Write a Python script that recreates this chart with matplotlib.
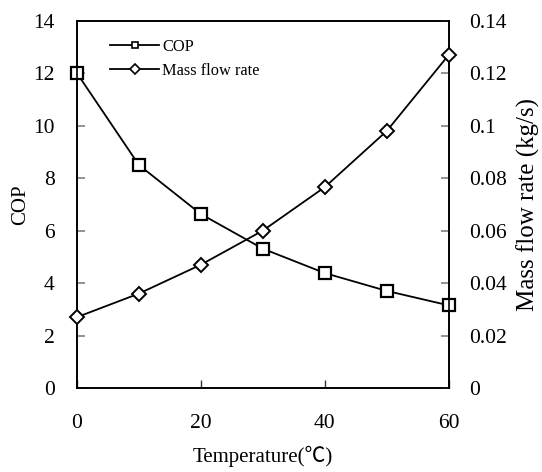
import matplotlib
matplotlib.use("Agg")
import matplotlib.pyplot as plt
from matplotlib.lines import Line2D
from matplotlib.ticker import FuncFormatter

temperature = [0, 10, 20, 30, 40, 50, 60]
cop = [12.0, 8.5, 6.63, 5.31, 4.38, 3.70, 3.15]
mass_flow = [0.027, 0.036, 0.047, 0.060, 0.0766, 0.098, 0.127]
x_ticks = [0, 20, 40, 60]
cop_ticks = [0, 2, 4, 6, 8, 10, 12, 14]
flow_ticks = [0, 0.02, 0.04, 0.06, 0.08, 0.1, 0.12, 0.14]

plt.rcParams['font.family'] = ['Liberation Serif', 'Noto Sans CJK SC']

fig = plt.figure(figsize=(5.42, 4.72), dpi=100)
ax = fig.add_axes([0.142, 0.178, 0.686, 0.778])
ax2 = ax.twinx()

ax.plot(temperature, cop, color='black', lw=1.3, marker='s', markersize=9,
        markerfacecolor='white', markeredgecolor='black', markeredgewidth=1.6,
        clip_on=False, zorder=3)
ax2.plot(temperature, mass_flow, color='black', lw=1.3, marker='D', markersize=7.5,
         markerfacecolor='white', markeredgecolor='black', markeredgewidth=1.4,
         clip_on=False, zorder=3)

ax.set_xlim(0, 60)
ax.set_ylim(0, 14)
ax2.set_ylim(0, 0.14)
ax.set_xticks(x_ticks)
ax.set_yticks(cop_ticks)
ax2.set_yticks(flow_ticks)
ax2.yaxis.set_major_formatter(FuncFormatter(lambda v, p: '%g' % round(v, 2)))

for a in (ax, ax2):
    for s in a.spines.values():
        s.set_linewidth(1.2)
        s.set_color('black')

ax.tick_params(axis='y', direction='in', length=6, width=1.2, color='0.5',
               labelsize=15.5, pad=16)
ax.tick_params(axis='x', direction='in', length=6, width=1.0, color='0.2',
               labelsize=15.5, pad=19)
ax2.tick_params(axis='y', direction='in', length=6, width=1.2, color='0.5',
                labelsize=15.5, pad=14.5)

ax.set_xlabel('Temperature(℃)', fontsize=15, labelpad=9)
ax.set_ylabel('COP', fontsize=15, labelpad=2)
ax2.set_ylabel('Mass flow rate (kg/s)', fontsize=18, labelpad=7)

handles = [
    Line2D([], [], color='black', lw=1.3, marker='s', markersize=5,
           markerfacecolor='white', markeredgecolor='black', markeredgewidth=1.2),
    Line2D([], [], color='black', lw=1.3, marker='D', markersize=5,
           markerfacecolor='white', markeredgecolor='black', markeredgewidth=1.2),
]
ax.legend(handles, ['COP', 'Mass flow rate'], loc='upper left',
          bbox_to_anchor=(0.05, 0.99), frameon=False, fontsize=11.8,
          handlelength=3.0, handletextpad=0.15, labelspacing=0.45)

fig.savefig('out.png', dpi=100)
